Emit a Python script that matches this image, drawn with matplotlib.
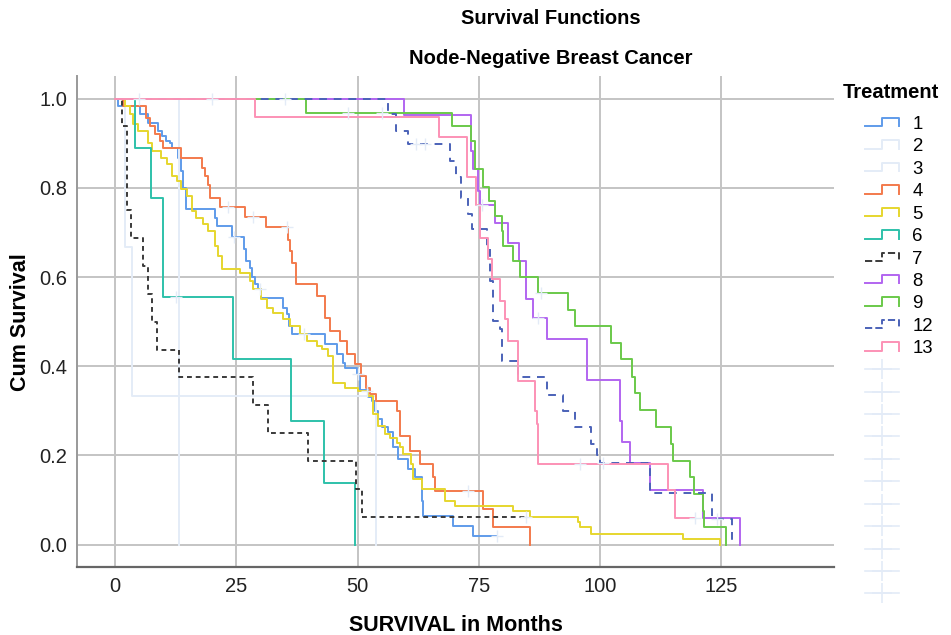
import numpy as np
import matplotlib
matplotlib.use('Agg')
import matplotlib.pyplot as plt
from matplotlib.lines import Line2D
from matplotlib.legend_handler import HandlerBase

plt.rcParams['font.family'] = ['Liberation Sans', 'DejaVu Sans']

# Kaplan-Meier step data: time (months) and cumulative survival
t1 = [0, 0.7, 5.2, 6.9, 8.9, 9.8, 10.5, 11.3, 11.7, 13.0, 13.7, 14.1, 14.6, 20.6, 21.0, 24.1,
      26.6, 27.1, 27.8, 28.2, 28.9, 29.5, 30.2, 34.7, 35.4, 35.9, 36.6, 43.3, 45.7, 47.0, 47.4,
      49.9, 50.5, 52.2, 52.9, 53.6, 54.3, 55.0, 56.3, 57.4, 58.4, 60.4, 61.8, 63.2, 63.5, 69.7,
      73.8, 78.7]
s1 = [1.0, 0.983, 0.965, 0.946, 0.927, 0.916, 0.905, 0.901, 0.890, 0.867, 0.838, 0.800, 0.752,
      0.733, 0.715, 0.690, 0.663, 0.636, 0.621, 0.599, 0.584, 0.573, 0.554, 0.531, 0.517, 0.490,
      0.472, 0.450, 0.427, 0.408, 0.396, 0.383, 0.347, 0.330, 0.323, 0.300, 0.282, 0.263, 0.252,
      0.218, 0.192, 0.170, 0.151, 0.099, 0.065, 0.043, 0.020, 0.020]

t2 = [0, 2.1, 3.5, 53.8]
s2 = [1.0, 0.667, 0.333, 0.0]

t3 = [0, 13.2]
s3 = [1.0, 0.0]

t4 = [0, 1.7, 6.5, 7.2, 8.2, 9.3, 10.0, 13.7, 17.9, 18.6, 19.2, 19.6, 21.6, 26.8, 31.1, 35.7,
      36.1, 36.4, 37.4, 41.6, 43.3, 44.3, 46.4, 47.8, 49.5, 50.7, 51.7, 52.6, 53.9, 58.1, 58.7,
      60.8, 62.9, 65.6, 65.9, 75.9, 78.0, 85.5]
s4 = [1.0, 0.983, 0.957, 0.938, 0.920, 0.905, 0.890, 0.867, 0.845, 0.826, 0.807, 0.777, 0.757,
      0.734, 0.711, 0.684, 0.658, 0.632, 0.584, 0.558, 0.509, 0.479, 0.457, 0.428, 0.405, 0.378,
      0.352, 0.337, 0.322, 0.300, 0.244, 0.211, 0.181, 0.151, 0.121, 0.080, 0.039, 0.0]

t5 = [0, 2.1, 3.1, 3.7, 4.7, 6.8, 7.6, 9.6, 10.7, 11.7, 12.7, 13.7, 14.8, 15.8, 16.8, 18.2,
      19.2, 20.6, 21.3, 22.0, 25.8, 27.8, 28.5, 30.2, 31.3, 32.6, 34.7, 36.1, 38.1, 39.5, 41.6,
      42.6, 44.0, 45.0, 47.4, 50.1, 52.2, 53.2, 54.3, 55.6, 56.7, 58.1, 58.7, 59.4, 61.1, 61.5,
      63.2, 68.0, 70.1, 82.1, 85.5, 95.5, 95.8, 98.2, 117.1, 124.7]
s5 = [1.0, 0.983, 0.966, 0.943, 0.927, 0.901, 0.882, 0.867, 0.853, 0.827, 0.816, 0.797, 0.782,
      0.748, 0.733, 0.718, 0.703, 0.670, 0.647, 0.617, 0.608, 0.591, 0.573, 0.550, 0.531, 0.520,
      0.506, 0.490, 0.472, 0.457, 0.446, 0.438, 0.423, 0.363, 0.352, 0.345, 0.334, 0.293, 0.267,
      0.248, 0.240, 0.229, 0.218, 0.203, 0.181, 0.147, 0.125, 0.099, 0.087, 0.076, 0.063, 0.050,
      0.039, 0.025, 0.013, 0.0]

t6 = [0, 4.2, 7.4, 10.0, 24.4, 36.3, 43.1, 49.5]
s6 = [1.0, 0.889, 0.778, 0.556, 0.417, 0.278, 0.139, 0.0]

t7 = [0, 1.4, 2.4, 3.4, 5.8, 6.9, 7.6, 8.7, 13.2, 28.4, 31.6, 39.7, 49.7, 51.0, 84.8]
s7 = [1.0, 0.9375, 0.75, 0.6875, 0.625, 0.5625, 0.5, 0.4375, 0.375, 0.3125, 0.25, 0.1875,
      0.125, 0.0625, 0.0625]

t8 = [0, 59.6, 73.3, 73.8, 74.9, 75.2, 78.4, 81.0, 83.3, 84.7, 86.1, 89.0, 97.3, 104.1, 104.6,
      106.1, 110.2, 121.1, 128.8]
s8 = [1.0, 0.963, 0.882, 0.842, 0.793, 0.761, 0.720, 0.677, 0.636, 0.550, 0.508, 0.462, 0.369,
      0.278, 0.231, 0.184, 0.123, 0.061, 0.0]

t9 = [0, 39.4, 69.5, 73.3, 74.2, 75.9, 77.1, 78.4, 79.7, 80.0, 82.1, 83.5, 87.2, 93.4, 94.8,
      102.3, 104.4, 106.5, 107.1, 108.3, 111.6, 114.7, 115.1, 118.5, 119.3, 121.2, 121.4, 125.9]
s9 = [1.0, 0.968, 0.938, 0.905, 0.841, 0.802, 0.770, 0.737, 0.703, 0.670, 0.636, 0.599, 0.565,
      0.526, 0.490, 0.453, 0.416, 0.375, 0.341, 0.302, 0.263, 0.226, 0.188, 0.151, 0.114, 0.076,
      0.039, 0.0]

t12 = [0, 56.3, 58.0, 60.4, 69.0, 70.4, 71.4, 72.8, 73.5, 76.6, 77.3, 78.0, 79.3, 79.7, 83.1,
       89.0, 92.3, 94.8, 98.2, 99.3, 99.9, 110.2, 123.0, 127.1]
s12 = [1.0, 0.965, 0.927, 0.897, 0.860, 0.823, 0.778, 0.741, 0.707, 0.666, 0.591, 0.502, 0.483,
       0.412, 0.375, 0.335, 0.300, 0.263, 0.226, 0.202, 0.184, 0.117, 0.058, 0.0]

t13 = [0, 28.8, 66.8, 72.5, 74.5, 75.2, 76.9, 77.8, 79.3, 80.4, 81.0, 83.1, 86.5, 86.9, 87.2,
       114.0, 115.4, 119.5]
s13 = [1.0, 0.959, 0.914, 0.823, 0.761, 0.688, 0.640, 0.595, 0.546, 0.505, 0.457, 0.367, 0.300,
       0.270, 0.182, 0.123, 0.061, 0.061]

# censored cases (months), drawn as faint '+' on their curve
c1 = [24.5, 50.1, 78.7]
c2 = []
c3 = []
c4 = [23.3, 28.4, 35.4, 72.7]
c5 = [30.0, 39.0, 52.0]
c6 = [12.5]
c7 = [84.8]
c8 = [5.0, 20.0, 35.0, 75.6, 87.2]
c9 = [48.0, 55.0, 87.9]
c12 = [62.0, 64.0, 100.5, 124.0]
c13 = [95.8, 119.5]

treatments = ['1', '2', '3', '4', '5', '6', '7', '8', '9', '12', '13']
times = [t1, t2, t3, t4, t5, t6, t7, t8, t9, t12, t13]
survs = [s1, s2, s3, s4, s5, s6, s7, s8, s9, s12, s13]
censored = [c1, c2, c3, c4, c5, c6, c7, c8, c9, c12, c13]
colors = ['#5f9bea', '#e4ecf7', '#e4ecf7', '#f37a4c', '#e6d62e', '#2ec1aa', '#3a3a3a',
          '#b265f0', '#6ac94a', '#4b62b8', '#fc92b6']
styles = ['-', '-', '-', '-', '-', '-', (0, (2.5, 2)), '-', '-', (0, (4, 3.5)), '-']
censor_color = '#e3ebf7'


class StepHandler(HandlerBase):
    # legend icon drawn as a small step, like the SPSS legend
    def create_artists(self, legend, orig_handle, xdescent, ydescent, width, height,
                       fontsize, trans):
        xs = np.array([0.0, 0.5, 0.5, 1.0, 1.0]) * width - xdescent
        ys = np.array([0.2, 0.2, 0.85, 0.85, 0.2]) * height - ydescent
        ln = Line2D(xs, ys, color=orig_handle.get_color(),
                    linestyle=orig_handle.get_linestyle(),
                    linewidth=orig_handle.get_linewidth())
        ln.set_transform(trans)
        return [ln]


fig = plt.figure(figsize=(9.51, 6.35), dpi=100)
ax = fig.add_axes([0.081, 0.107, 0.796, 0.773])

ax.grid(True, color='#c4c4c4', linewidth=1.4)
ax.set_axisbelow(True)

handles = []
for lab, t, s, c, ls, cen in zip(treatments, times, survs, colors, styles, censored):
    ax.step(t, s, where='post', color=c, linestyle=ls, linewidth=1.4)
    handles.append(Line2D([], [], color=c, linestyle=ls, linewidth=1.4))
    if cen:
        idx = np.searchsorted(t, cen, side='right') - 1
        ax.plot(cen, np.array(s)[idx], linestyle='none', marker='+', markersize=9,
                markeredgewidth=1.0, color=censor_color, zorder=3)

ax.set_xlim(-7.8, 148.2)
ax.set_ylim(-0.05, 1.05)
ax.set_xticks([0, 25, 50, 75, 100, 125])
ax.set_yticks([0.0, 0.2, 0.4, 0.6, 0.8, 1.0])
ax.set_yticklabels(['0.0', '0.2', '0.4', '0.6', '0.8', '1.0'])
ax.tick_params(length=0, labelsize=14.5, pad=7, colors='#222222')

for side in ['top', 'right']:
    ax.spines[side].set_visible(False)
ax.spines['left'].set_color('#999999')
ax.spines['left'].set_linewidth(1.4)
ax.spines['bottom'].set_color('#666666')
ax.spines['bottom'].set_linewidth(1.6)

ax.set_xlabel('SURVIVAL in Months', fontsize=15.5, fontweight='bold', labelpad=14)
ax.set_ylabel('Cum Survival', fontsize=15.5, fontweight='bold', labelpad=6)

fig.text(551 / 951, 1 - 19 / 635, 'Survival Functions', ha='center', va='center',
         fontsize=14.5, fontweight='bold')
fig.text(551 / 951, 1 - 58 / 635, 'Node-Negative Breast Cancer', ha='center', va='center',
         fontsize=14.5, fontweight='bold')
fig.text(843 / 951, 1 - 93 / 635, 'Treatment', ha='left', va='center',
         fontsize=14.5, fontweight='bold')

censor_handles = [Line2D([], [], color=censor_color, linewidth=1.2, marker='+',
                         markersize=14, markeredgewidth=1.2) for _ in treatments]
hmap = {h: StepHandler() for h in handles}
fig.legend(handles + censor_handles, treatments + [''] * len(treatments),
           loc='upper left', bbox_to_anchor=(865 / 951, 1 - 116 / 635),
           frameon=False, fontsize=13.4, handlelength=1.8, handletextpad=0.75,
           labelspacing=0.29, borderpad=0, borderaxespad=0, numpoints=1,
           handler_map=hmap)

fig.savefig('out.png', dpi=100)
